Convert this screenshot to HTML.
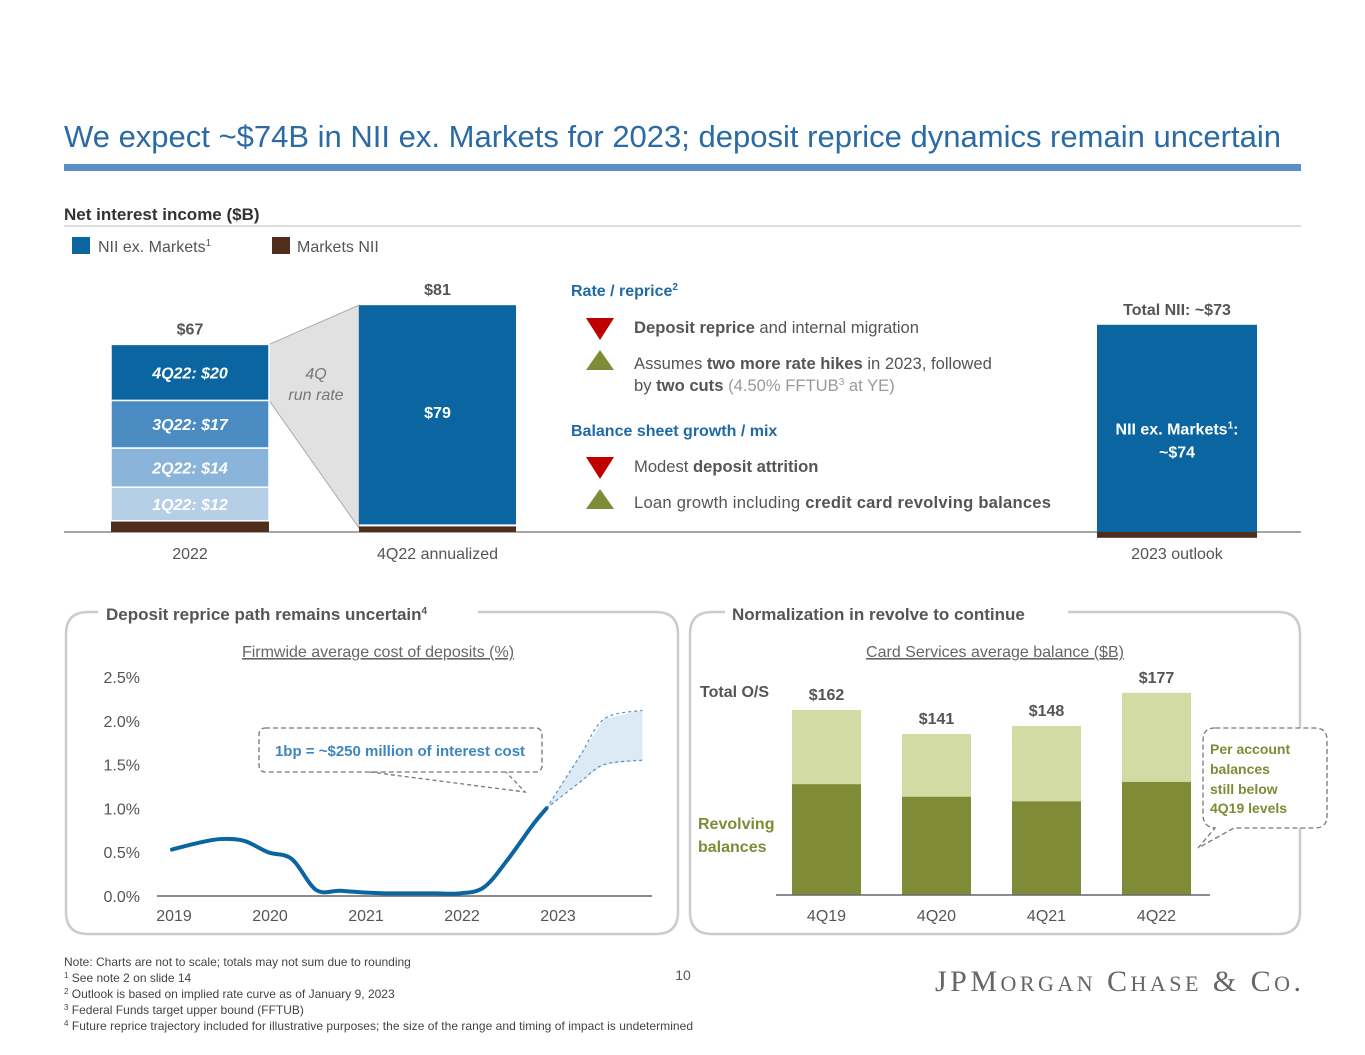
<!DOCTYPE html>
<html><head><meta charset="utf-8">
<style>
body{margin:0;background:#fff;width:1365px;height:1055px;overflow:hidden;font-family:"Liberation Sans",Arial,sans-serif;}
svg{position:absolute;left:0;top:0;}
</style></head>
<body>
<svg id="s" width="1365" height="1055" xmlns="http://www.w3.org/2000/svg" font-family="Liberation Sans, Arial, sans-serif">
<text x="64" y="147" font-size="31" fill="#2a6aa5" textLength="1217">We expect ~$74B in NII ex. Markets for 2023; deposit reprice dynamics remain uncertain</text>
<rect x="64" y="164" width="1237" height="7" fill="#5b8fc8"/>
<text x="64" y="220" font-size="17" font-weight="bold" fill="#333">Net interest income ($B)</text>
<line x1="64" y1="226" x2="1301" y2="226" stroke="#bbb" stroke-width="1"/>
<rect x="72" y="237" width="18" height="17" fill="#0a65a0"/>
<text x="98" y="252" font-size="16" fill="#555">NII ex. Markets<tspan font-size="10" dy="-6">1</tspan></text>
<rect x="272" y="237" width="18" height="17" fill="#4f2e1c"/>
<text x="297" y="252" font-size="16" fill="#555">Markets NII</text>
<g id="top"></g>
<text x="571" y="296" font-size="16" font-weight="bold" fill="#1f6aa5">Rate / reprice<tspan font-size="10" dy="-6">2</tspan></text>
<polygon points="586,318 614,318 600,340" fill="#c00000"/>
<text x="634" y="333" font-size="16.6" fill="#555"><tspan font-weight="bold">Deposit reprice</tspan> and internal migration</text>
<polygon points="600,350 614,370 586,370" fill="#7f8b36"/>
<text x="634" y="369" font-size="16.6" fill="#555">Assumes <tspan font-weight="bold">two more rate hikes</tspan> in 2023, followed</text>
<text x="634" y="391" font-size="16.6" fill="#555">by <tspan font-weight="bold">two cuts</tspan> <tspan fill="#999">(4.50% FFTUB<tspan font-size="10" dy="-6">3</tspan><tspan dy="6"> at YE)</tspan></tspan></text>
<text x="571" y="436" font-size="16" font-weight="bold" fill="#1f6aa5">Balance sheet growth / mix</text>
<polygon points="586,457 614,457 600,479" fill="#c00000"/>
<text x="634" y="472" font-size="16.6" fill="#555">Modest <tspan font-weight="bold">deposit attrition</tspan></text>
<polygon points="600,489 614,509 586,509" fill="#7f8b36"/>
<text x="634" y="508" font-size="16.6" fill="#555" textLength="417">Loan growth including <tspan font-weight="bold">credit card revolving balances</tspan></text>

<path d="M98,612 H88 Q66,612 66,634 V912 Q66,934 88,934 H656 Q678,934 678,912 V634 Q678,612 656,612 H478" fill="none" stroke="#ccc" stroke-width="2.5"/>
<text x="106" y="620" font-size="17" font-weight="bold" fill="#555">Deposit reprice path remains uncertain<tspan font-size="10" dy="-6">4</tspan></text>
<text x="378" y="657" font-size="16" fill="#666" text-anchor="middle" text-decoration="underline">Firmwide average cost of deposits (%)</text>
<path d="M725,612 H712 Q690,612 690,634 V912 Q690,934 712,934 H1278 Q1300,934 1300,912 V634 Q1300,612 1278,612 H1068" fill="none" stroke="#ccc" stroke-width="2.5"/>
<text x="732" y="620" font-size="17" font-weight="bold" fill="#555">Normalization in revolve to continue</text>
<text x="995" y="657" font-size="16" fill="#666" text-anchor="middle" text-decoration="underline">Card Services average balance ($B)</text>
<g id="line"></g>
<g id="card"></g>
<rect x="259" y="728" width="283" height="44" rx="6" fill="#fff" stroke="#777" stroke-dasharray="5,3" stroke-width="1.3"/>
<path d="M370,772 L525,792 L506,772" fill="none" stroke="#777" stroke-dasharray="4,3" stroke-width="1.3"/>
<text x="400" y="756" font-size="15" font-weight="bold" fill="#3f86c0" text-anchor="middle">1bp = ~$250 million of interest cost</text>
<text x="700" y="697" font-size="16" font-weight="bold" fill="#555">Total O/S</text>
<text x="698" y="829" font-size="16" font-weight="bold" fill="#7f8b36">Revolving</text>
<text x="698" y="852" font-size="16" font-weight="bold" fill="#7f8b36">balances</text>
<path d="M1215,728 Q1203,728 1203,740 V815 Q1203,827 1215,828 L1198,848 L1234,828 H1315 Q1327,828 1327,816 V740 Q1327,728 1315,728 Z" fill="#fff" stroke="#777" stroke-dasharray="5,3" stroke-width="1.3"/>
<text font-size="14" font-weight="bold" fill="#7f8b36"><tspan x="1210" y="754">Per account</tspan><tspan x="1210" y="774">balances</tspan><tspan x="1210" y="794">still below</tspan><tspan x="1210" y="813">4Q19 levels</tspan></text>

<g font-size="12" fill="#444">
<text x="64" y="966">Note: Charts are not to scale; totals may not sum due to rounding</text>
<text x="64" y="982"><tspan font-size="8" dy="-4">1</tspan><tspan dy="4"> See note 2 on slide 14</tspan></text>
<text x="64" y="998"><tspan font-size="8" dy="-4">2</tspan><tspan dy="4"> Outlook is based on implied rate curve as of January 9, 2023</tspan></text>
<text x="64" y="1014"><tspan font-size="8" dy="-4">3</tspan><tspan dy="4"> Federal Funds target upper bound (FFTUB)</tspan></text>
<text x="64" y="1030" textLength="629"><tspan font-size="8" dy="-4">4</tspan><tspan dy="4"> Future reprice trajectory included for illustrative purposes; the size of the range and timing of impact is undetermined</tspan></text>
</g>
<text x="683" y="980" font-size="14" fill="#555" text-anchor="middle">10</text>
<text x="935" y="991" font-size="30" fill="#666" font-family="Liberation Serif, serif" textLength="366">JPM<tspan font-size="22">ORGAN</tspan> C<tspan font-size="22">HASE</tspan> &amp; C<tspan font-size="22">O</tspan>.</text>
</svg>
<script>
var nCats = ['2022','4Q22 annualized','2023 outlook'];
var qLabels = ['1Q22: $12','2Q22: $14','3Q22: $17','4Q22: $20'];
var qValues = [12,14,17,20];
var niiExMarkets = [63,79,74];
var marketsNii = [4,2,-1];
var totalLabels = ['$67','$81','Total NII: ~$73'];
var depYears = [2019,2019.25,2019.5,2019.75,2020,2020.25,2020.5,2020.75,2021,2021.25,2021.5,2021.75,2022,2022.25,2022.5,2022.75,2022.9];
var depCost = [0.53,0.6,0.65,0.63,0.5,0.42,0.07,0.06,0.04,0.03,0.03,0.03,0.03,0.1,0.42,0.8,1.0];
var projYears = [2022.9,2023.25,2023.5,2023.9];
var projHigh = [1.0,1.6,2.02,2.12];
var projLow = [1.0,1.3,1.5,1.55];
var yTicks = [0,0.5,1.0,1.5,2.0,2.5];
var xTicks = [2019,2020,2021,2022,2023];
var cardCats = ['4Q19','4Q20','4Q21','4Q22'];
var cardTotal = [162,141,148,177];
var cardRevolving = [97,86,82,99];

var NS='http://www.w3.org/2000/svg';
function mk(p,tag,a,txt){var e=document.createElementNS(NS,tag);for(var k in a)e.setAttribute(k,a[k]);if(txt!=null)e.textContent=txt;p.appendChild(e);return e;}

(function(){
var g=document.getElementById('top');
var base=532, sc=2.8;
function yv(v){return base - v*sc;}
var bx=[111,359,1097], bw=[158,157,160];
var qCols=['#b5cfe6','#8ab4d9','#4a8cc2','#0a65a0'];
mk(g,'line',{x1:64,y1:base,x2:1301,y2:base,stroke:'#888','stroke-width':1.5});
var top2022 = yv(marketsNii[0]+qValues[0]+qValues[1]+qValues[2]+qValues[3]);
var top4q = yv(marketsNii[1]+niiExMarkets[1]);
var w=mk(g,'polygon',{points:(bx[0]+bw[0])+','+top2022+' '+bx[1]+','+top4q+' '+bx[1]+','+(base-4)+' '+(bx[0]+bw[0])+','+yv(marketsNii[0]+qValues[0]+qValues[1]+qValues[2]),fill:'#e1e1e1',stroke:'#aaa'});


mk(g,'text',{x:316,y:379,'font-size':16,'font-style':'italic',fill:'#777','text-anchor':'middle'},'4Q');
mk(g,'text',{x:316,y:400,'font-size':16,'font-style':'italic',fill:'#777','text-anchor':'middle'},'run rate');
for(var i=0;i<3;i++){
  var m=marketsNii[i];
  var r=mk(g,'rect',{x:bx[i],y:m>=0?yv(m):base,width:bw[i],height:Math.abs(m)*sc+(m<0?3:0),fill:'#4f2e1c'});
  
  
  var start=Math.max(m,0);
  if(i==0){
    var acc=start;
    for(var q=0;q<4;q++){
      var s=mk(g,'rect',{x:bx[i],y:yv(acc+qValues[q]),width:bw[i],height:qValues[q]*sc,fill:qCols[q],stroke:'#fff','stroke-width':1.5});
      
      
      mk(g,'text',{x:bx[i]+bw[i]/2,y:yv(acc+qValues[q]/2)+6,'font-size':16,'font-weight':'bold','font-style':'italic',fill:'#fff','text-anchor':'middle'},qLabels[q]);
      acc+=qValues[q];
    }
    mk(g,'text',{x:bx[i]+bw[i]/2,y:yv(acc)-10,'font-size':16,'font-weight':'bold',fill:'#555','text-anchor':'middle'},totalLabels[i]);
  } else {
    var b=mk(g,'rect',{x:bx[i],y:yv(start+niiExMarkets[i]),width:bw[i],height:niiExMarkets[i]*sc-(i==1?2:0),fill:'#0a65a0'});
    
    
    var mid=yv(start+niiExMarkets[i]/2);
    if(i==1) mk(g,'text',{x:bx[i]+bw[i]/2,y:mid+2,'font-size':16,'font-weight':'bold',fill:'#fff','text-anchor':'middle'},'$'+niiExMarkets[i]);
    else {
      var t=mk(g,'text',{x:bx[i]+bw[i]/2,y:mid+6,'font-size':16,'font-weight':'bold',fill:'#fff','text-anchor':'middle'},'NII ex. Markets');
      mk(t,'tspan',{'font-size':10,dy:-6},'1');mk(t,'tspan',{dy:6},':');
      mk(g,'text',{x:bx[i]+bw[i]/2,y:mid+29,'font-size':16,'font-weight':'bold',fill:'#fff','text-anchor':'middle'},'~$'+niiExMarkets[i]);
    }
    mk(g,'text',{x:bx[i]+bw[i]/2,y:yv(start+niiExMarkets[i])-10,'font-size':16,'font-weight':'bold',fill:'#555','text-anchor':'middle'},totalLabels[i]);
  }
  mk(g,'text',{x:bx[i]+bw[i]/2,y:559,'font-size':16,fill:'#555','text-anchor':'middle'},nCats[i]);
}
})();

(function(){
var g=document.getElementById('line');
function xs(t){return 172+(t-2019)*96;}
function ys(v){return 896-v*87.6;}
mk(g,'line',{x1:157,y1:896,x2:652,y2:896,stroke:'#666','stroke-width':1.5});
yTicks.forEach(function(v){mk(g,'text',{x:140,y:ys(v)+6,'font-size':16,fill:'#555','text-anchor':'end'},v.toFixed(1)+'%');});
xTicks.forEach(function(t){mk(g,'text',{x:xs(t)+2,y:921,'font-size':16,fill:'#555','text-anchor':'middle'},String(t));});
function smooth(xa,ya){
  var p=xa.map(function(x,i){return [xs(x),ys(ya[i])];});
  var d='M'+p[0][0]+','+p[0][1];
  for(var i=0;i<p.length-1;i++){
    var p0=p[Math.max(i-1,0)],p1=p[i],p2=p[i+1],p3=p[Math.min(i+2,p.length-1)];
    d+=' C'+(p1[0]+(p2[0]-p0[0])/6)+','+(p1[1]+(p2[1]-p0[1])/6)+' '+(p2[0]-(p3[0]-p1[0])/6)+','+(p2[1]-(p3[1]-p1[1])/6)+' '+p2[0]+','+p2[1];
  }
  return d;
}
var band='M'+xs(projYears[0])+','+ys(projHigh[0]);
projYears.forEach(function(t,i){band+=' L'+xs(t)+','+ys(projHigh[i]);});
for(var i=projYears.length-1;i>=0;i--) band+=' L'+xs(projYears[i])+','+ys(projLow[i]);
var b=mk(g,'path',{d:band+'Z',fill:'#dceaf5'});


mk(g,'path',{d:smooth(projYears,projHigh),fill:'none',stroke:'#5a8fc0','stroke-dasharray':'3,3','stroke-width':1.2});
mk(g,'path',{d:smooth(projYears,projLow),fill:'none',stroke:'#5a8fc0','stroke-dasharray':'3,3','stroke-width':1.2});
var l=mk(g,'path',{d:smooth(depYears,depCost),fill:'none',stroke:'#0a65a0','stroke-width':4,'stroke-linecap':'round'});


})();

(function(){
var g=document.getElementById('card');
var base=895, sc=1.142;
var x0=792, step=110, w=69;
for(var i=0;i<cardCats.length;i++){
  var x=x0+i*step;
  var t=mk(g,'rect',{x:x,y:base-cardTotal[i]*sc,width:w,height:cardTotal[i]*sc,fill:'#d3dba5'});
  
  
  var r=mk(g,'rect',{x:x,y:base-cardRevolving[i]*sc,width:w,height:cardRevolving[i]*sc,fill:'#7f8b36'});
  
  
  mk(g,'text',{x:x+w/2,y:base-cardTotal[i]*sc-10,'font-size':16,'font-weight':'bold',fill:'#555','text-anchor':'middle'},'$'+cardTotal[i]);
  mk(g,'text',{x:x+w/2,y:921,'font-size':16,fill:'#555','text-anchor':'middle'},cardCats[i]);
}
mk(g,'line',{x1:776,y1:base,x2:1210,y2:base,stroke:'#666','stroke-width':1.5});
})();
</script>
</body></html>
